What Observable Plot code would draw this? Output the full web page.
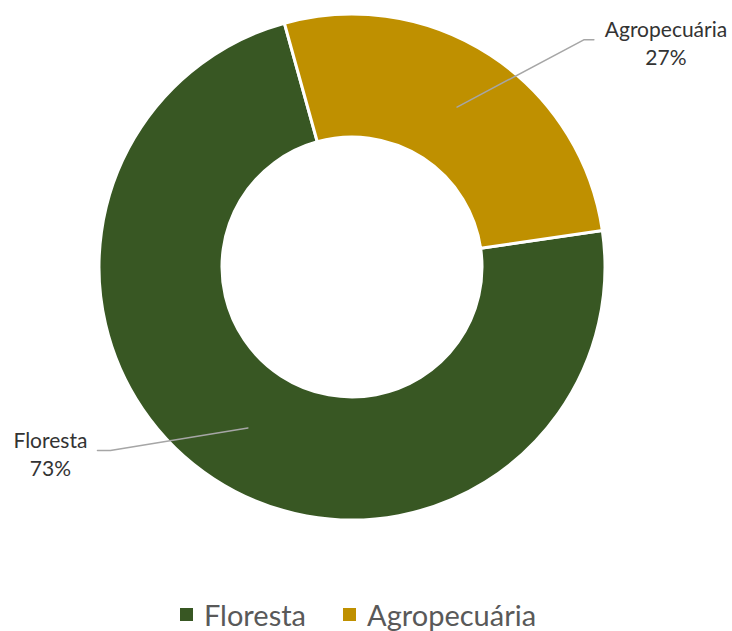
<!DOCTYPE html>
<html><head><meta charset="utf-8">
<script src="https://cdn.jsdelivr.net/npm/d3@7"></script>
<script src="https://cdn.jsdelivr.net/npm/@observablehq/plot@0.6"></script>
<style>
html,body{margin:0;padding:0;background:#fff;}
#chart svg{display:block;}
#legend{display:flex;justify-content:center;align-items:center;gap:37px;padding-top:8px;padding-right:16px;height:33px;line-height:29px;font-family:Lato,sans-serif;font-size:29px;color:#595959;box-sizing:content-box;}
#legend .item{display:flex;align-items:center;gap:11px;}
#legend .sw{width:13px;height:13px;display:inline-block;}
</style></head><body>
<div id="chart"></div>
<div id="legend"></div>
<script>
// ---- data ----
const categories = ["Floresta", "Agropecuária"];
const values = [73, 27];
const percentLabels = ["73%", "27%"];
const colors = ["#385723", "#BF9000"];

// ---- layout ----
const W = 732, H = 590;
const cxPx = 352, cyPx = 267, Rpx = 253;   // centre and outer radius in pixels
const innerRatio = 130 / 253;
const startDeg = 81.7;

const data = categories.map((c, i) => ({category: c, value: values[i], pct: percentLabels[i]}));
const color = Plot.scale({color: {type: "ordinal", domain: categories, range: colors}});

const arcs = d3.pie().sort(null).value(d => d.value)
  .startAngle(startDeg * Math.PI / 180)
  .endAngle(startDeg * Math.PI / 180 + 2 * Math.PI)(data);

// label placement (chart units: outer radius = 1, y up)
const placement = {
  "Agropecuária": {lx: 1.239, ly: 0.892, ex: 0.914, ey: 0.900, tx: 0.954},
  "Floresta":     {lx: -1.194, ly: -0.732, ex: -0.957, ey: -0.723, tx: -1.008}
};
const midR = (1 + innerRatio) / 2;
const leaderPts = [];
const labelData = [];
arcs.forEach(a => {
  const m = (a.startAngle + a.endAngle) / 2;
  const p = placement[a.data.category];
  const ax = midR * Math.sin(m), ay = midR * Math.cos(m);
  leaderPts.push({k: a.data.category, x: ax, y: ay});
  leaderPts.push({k: a.data.category, x: p.ex, y: p.ey});
  leaderPts.push({k: a.data.category, x: p.tx, y: p.ey});
  labelData.push({x: p.lx, y: p.ly, text: a.data.category + "\n" + a.data.pct});
});

function donut(index, scales) {
  const cx = scales.x(0), cy = scales.y(0);
  const ro = scales.x(1) - cx, ri = scales.x(innerRatio) - cx;
  const arcGen = d3.arc().innerRadius(ri).outerRadius(ro);
  const g = d3.create("svg:g").attr("transform", `translate(${cx},${cy})`);
  g.selectAll("path").data(arcs).join("path")
    .attr("d", arcGen)
    .attr("fill", d => color.apply(d.data.category))
    .attr("stroke", "white").attr("stroke-width", 3).attr("stroke-linejoin", "miter");
  return g.node();
}

const chart = Plot.plot({
  width: W, height: H,
  margin: 0,
  x: {domain: [-cxPx / Rpx, (W - cxPx) / Rpx], range: [0, W], axis: null},
  y: {domain: [-(H - cyPx) / Rpx, cyPx / Rpx], range: [H, 0], axis: null},
  style: {fontFamily: "Lato, sans-serif", background: "#fff"},
  marks: [
    donut,
    Plot.line(leaderPts, {x: "x", y: "y", z: "k", stroke: "#a6a6a6", strokeWidth: 1.5}),
    Plot.text(labelData, {x: "x", y: "y", text: "text", fontSize: 21, lineHeight: 1.33,
      fill: "#333333", textAnchor: "middle", lineAnchor: "middle"})
  ]
});
document.getElementById("chart").appendChild(chart);

const legend = document.getElementById("legend");
categories.forEach((c, i) => {
  const item = document.createElement("span");
  item.className = "item";
  const sw = document.createElement("span");
  sw.className = "sw";
  sw.style.background = colors[i];
  const t = document.createElement("span");
  t.textContent = c;
  item.appendChild(sw); item.appendChild(t);
  legend.appendChild(item);
});
</script>
</body></html>
